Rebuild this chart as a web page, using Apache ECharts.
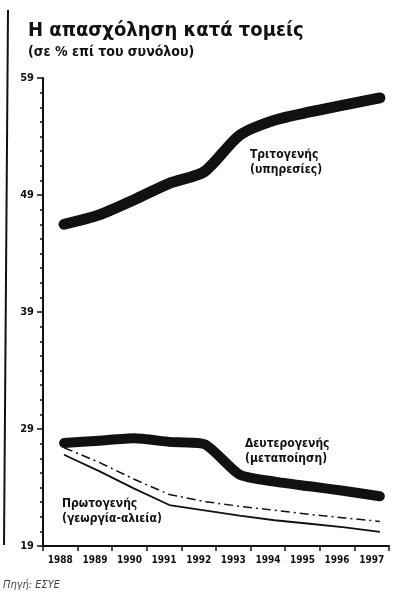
<!DOCTYPE html>
<html>
<head>
<meta charset="utf-8">
<script src="https://cdn.jsdelivr.net/npm/echarts@6/dist/echarts.min.js"></script>
<style>
  html, body { margin: 0; padding: 0; background: #fff; }
  #chart { width: 418px; height: 593px; }
</style>
</head>
<body>
<div id="chart"></div>
<script>
// έτη και ποσοστά απασχόλησης ανά τομέα (τιμές από το διάγραμμα)
var years = ['1988', '1989', '1990', '1991', '1992', '1993', '1994', '1995', '1996', '1997'];
var yearNums = [1988, 1989, 1990, 1991, 1992, 1993, 1994, 1995, 1996, 1997];
var tertiary = [46.5, 47.3, 48.6, 50.0, 51.0, 54.1, 55.4, 56.1, 56.7, 57.3];
var secondary = [27.8, 28.0, 28.2, 27.9, 27.7, 25.1, 24.5, 24.1, 23.7, 23.25];
var primary = [26.8, 25.4, 23.9, 22.5, 22.05, 21.6, 21.2, 20.9, 20.6, 20.2];
var primaryAlt = [27.4, 26.15, 24.7, 23.4, 22.8, 22.4, 22.05, 21.7, 21.4, 21.1];
var yTicks = [19, 29, 39, 49, 59];

var narrow = "'Liberation Sans Narrow', 'DejaVu Sans Condensed', sans-serif";

function pairs(vals) {
    var out = [];
    for (var i = 0; i < vals.length; i++) {
        out.push([yearNums[i], vals[i]]);
    }
    return out;
}

var myChart = echarts.init(document.getElementById('chart'));

var option = {
    backgroundColor: '#fff',
    animation: false,
    title: {
        text: 'Η απασχόληση κατά τομείς',
        subtext: '(σε % επί του συνόλου)',
        left: 23,
        top: 16,
        itemGap: 4,
        textStyle: { fontFamily: narrow, fontWeight: 'bold', fontSize: 20, color: '#111' },
        subtextStyle: { fontFamily: narrow, fontWeight: 'bold', fontSize: 14, color: '#111' }
    },
    grid: { left: 43, right: 29, top: 78, bottom: 47 },
    xAxis: [{
        type: 'category',
        data: years,
        boundaryGap: true,
        axisLine: { lineStyle: { color: '#111', width: 2 } },
        axisTick: { show: true, length: 5, lineStyle: { color: '#111', width: 1.5 } },
        axisLabel: { interval: 0, fontFamily: narrow, fontWeight: 'bold', fontSize: 10, color: '#111', margin: 9 }
    }, {
        type: 'value',
        show: false,
        min: 1987.4,
        max: 1997.26
    }],
    yAxis: {
        type: 'value',
        min: 19,
        max: 59,
        interval: 10,
        splitLine: { show: false },
        axisLine: { show: true, lineStyle: { color: '#111', width: 2 } },
        axisTick: { show: true, length: 6, lineStyle: { color: '#111', width: 1.5 } },
        minorTick: { show: true, splitNumber: 8, length: 3, lineStyle: { color: '#111', width: 1.5 } },
        axisLabel: {
            fontFamily: narrow, fontWeight: 'bold', fontSize: 11, color: '#111', margin: 9,
            formatter: function (v) { return yTicks.indexOf(v) >= 0 ? String(v) : ''; }
        }
    },
    series: [{
        name: 'Τριτογενής',
        type: 'line',
        xAxisIndex: 1,
        data: pairs(tertiary),
        symbol: 'none',
        smooth: 0.25,
        lineStyle: { color: '#111', width: 11, cap: 'round', join: 'round' }
    }, {
        name: 'Δευτερογενής',
        type: 'line',
        xAxisIndex: 1,
        data: pairs(secondary),
        symbol: 'none',
        smooth: 0.2,
        lineStyle: { color: '#111', width: 10, cap: 'round', join: 'round' }
    }, {
        name: 'Πρωτογενής (β)',
        type: 'line',
        xAxisIndex: 1,
        data: pairs(primaryAlt),
        symbol: 'none',
        lineStyle: { color: '#111', width: 1.5, type: [9, 4, 2, 4] }
    }, {
        name: 'Πρωτογενής',
        type: 'line',
        xAxisIndex: 1,
        data: pairs(primary),
        symbol: 'none',
        lineStyle: { color: '#111', width: 1.8 }
    }],
    graphic: [{
        type: 'line',
        shape: { x1: 8, y1: 10, x2: 4, y2: 545 },
        style: { stroke: '#111', lineWidth: 2 }
    }, {
        type: 'text',
        left: 250, top: 147,
        style: { text: 'Τριτογενής\n(υπηρεσίες)', font: 'bold 12px ' + narrow, fill: '#111', lineHeight: 15 }
    }, {
        type: 'text',
        left: 245, top: 436,
        style: { text: 'Δευτερογενής\n(μεταποίηση)', font: 'bold 12px ' + narrow, fill: '#111', lineHeight: 15 }
    }, {
        type: 'text',
        left: 62, top: 496,
        style: { text: 'Πρωτογενής\n(γεωργία-αλιεία)', font: 'bold 12px ' + narrow, fill: '#111', lineHeight: 15 }
    }, {
        type: 'text',
        left: 3, top: 580,
        style: { text: 'Πηγή: ΕΣΥΕ', font: 'italic 11px ' + narrow, fill: '#444' }
    }]
};

myChart.setOption(option);
</script>
</body>
</html>
